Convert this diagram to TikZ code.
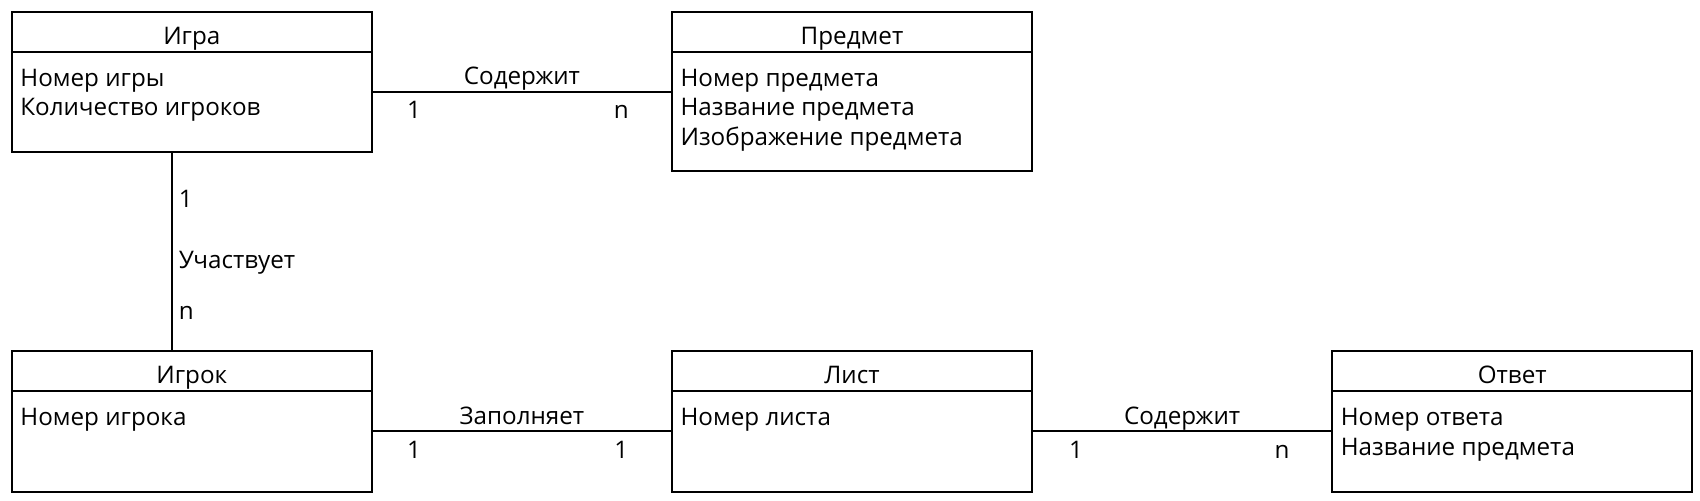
\documentclass[tikz,border=0pt]{standalone}
\usepackage{fontspec}
\setmainfont{Open Sans}
\usepackage{tikz}
\usetikzlibrary{positioning}

\begin{document}
\begin{tikzpicture}[x=1pt, y=-1pt,
    font=\fontsize{12.1}{14.6}\selectfont,
    entity/.style={draw, line width=1pt, anchor=north west, inner sep=0pt, minimum width=180pt},
    attr/.style={anchor=base west, inner sep=0pt},
    head/.style={anchor=base, inner sep=0pt},
    link/.style={line width=1pt},
    rel/.style={anchor=base, inner sep=0pt, yshift=3.3pt},
    card/.style={anchor=base, inner sep=0pt, yshift=-13.5pt},
    side/.style={anchor=base west, inner sep=0pt, xshift=3pt, yshift=-4pt}]

    \useasboundingbox (0,0) rectangle (850,250);

    % entities
    \node [entity, minimum height=70pt]   (igra)    at (5.4,5.4) {};
    \node [entity, minimum height=79.7pt] (predmet) at (335.5,5.4) {};
    \node [entity, minimum height=70.5pt] (igrok)   at (5.4,175) {};
    \node [entity, minimum height=70.5pt] (list)    at (335.5,175) {};
    \node [entity, minimum height=70.5pt] (otvet)   at (665.6,175) {};

    \foreach \e in {igra, predmet, igrok, list, otvet}
        \draw [line width=1pt] ([yshift=-20.6pt]\e.north west) -- ([yshift=-20.6pt]\e.north east);

    \node [head] (igra-t)    at ([yshift=-16.8pt]igra.north)    {Игра};
    \node [head] (predmet-t) at ([yshift=-16.8pt]predmet.north) {Предмет};
    \node [head] (igrok-t)   at ([yshift=-16.8pt]igrok.north)   {Игрок};
    \node [head] (list-t)    at ([yshift=-16.8pt]list.north)    {Лист};
    \node [head] (otvet-t)   at ([yshift=-16.8pt]otvet.north)   {Ответ};

    \node [attr] (igra-a1) at (10,43.2) {Номер игры};
    \node [attr] (igra-a2) at (10,57.9) {Количество игроков};

    \node [attr] (predmet-a1) at (340.1,43.2) {Номер предмета};
    \node [attr] (predmet-a2) at (340.1,57.9) {Название предмета};
    \node [attr] (predmet-a3) at (340.1,72.5) {Изображение предмета};

    \node [attr] (igrok-a1) at (10,212.8) {Номер игрока};
    \node [attr] (list-a1)  at (340.1,212.8) {Номер листа};

    \node [attr] (otvet-a1) at (670.2,212.8) {Номер ответа};
    \node [attr] (otvet-a2) at (670.2,227.5) {Название предмета};

    % relations
    \draw [link] (igra.east |- predmet.west) -- (predmet.west)
        node [midway, rel] {Содержит}
        node [pos=0.138, card] {1}
        node [pos=0.833, card] {n};

    \draw [link] ([xshift=-10pt]igra.south) -- ([xshift=-10pt]igra.south |- igrok.north)
        node [pos=0.239, side] {1}
        node [pos=0.544, side] {Участвует}
        node [pos=0.805, side] {n};

    \draw [link] ([yshift=-4.9pt]igrok.east) -- ([yshift=-4.9pt]list.west)
        node [midway, rel] {Заполняет}
        node [pos=0.138, card] {1}
        node [pos=0.833, card] {1};

    \draw [link] ([yshift=-4.9pt]list.east) -- ([yshift=-4.9pt]otvet.west)
        node [midway, rel] {Содержит}
        node [pos=0.144, card] {1}
        node [pos=0.835, card] {n};

\end{tikzpicture}
\end{document}
